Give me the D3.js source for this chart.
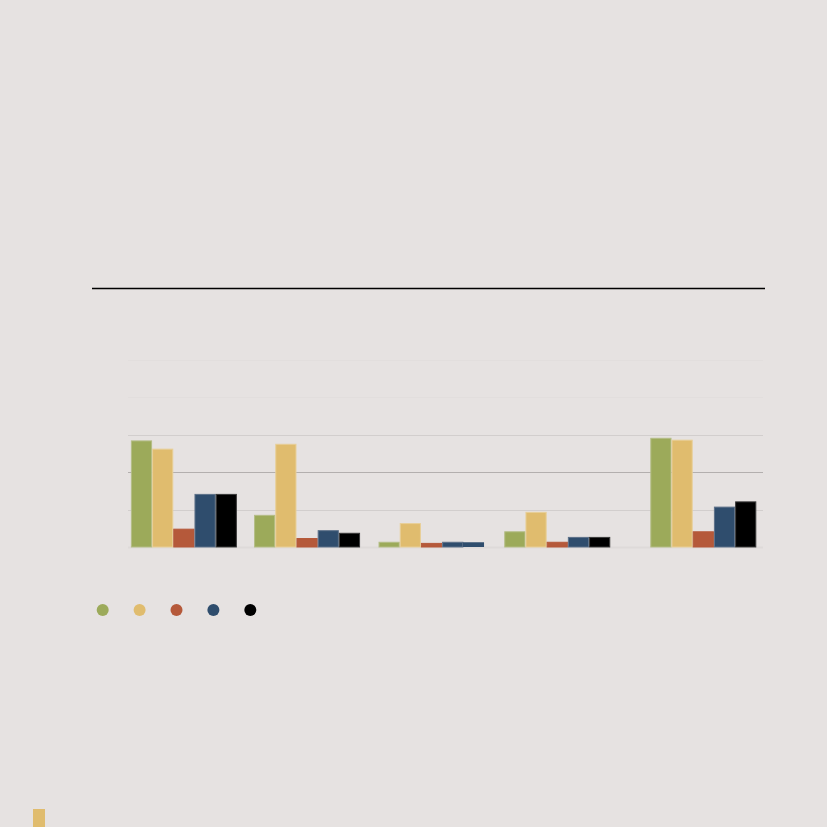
<!DOCTYPE html>
<html>
<head>
<meta charset="utf-8">
<script src="https://cdn.jsdelivr.net/npm/d3@7"></script>
<style>
  html, body { margin: 0; padding: 0; background: #e6e2e1; }
  svg { display: block; }
</style>
</head>
<body>
<div id="chart"></div>
<script>
// groups along the x axis (numeric position of each group centre)
let groupPos = [0.44, 1.41, 2.39, 3.38, 4.53];

// one array per series, one value per group
let seriesGreen  = [28.5, 8.6, 1.4, 4.2, 29.2];
let seriesYellow = [26.3, 27.6, 6.4, 9.4, 28.7];
let seriesRed    = [4.9, 2.4, 1.1, 1.4, 4.2];
let seriesBlue   = [14.2, 4.5, 1.4, 2.7, 10.8];
let seriesBlack  = [14.2, 3.8, 1.4, 2.7, 12.2];

let seriesColors = ['#9caa5a', '#e0bc6e', '#b5593a', '#2f4d6d', '#000000'];
let seriesEdge   = ['#b4bd86', '#e8cf98', '#b5593a', '#5d7189', '#3a3a3a'];
// third group: last series is shown in the blue colour
let colorOverride = { '2-4': 3 };

let yTicks = [0, 10, 20, 30, 40, 50];

let series = [seriesGreen, seriesYellow, seriesRed, seriesBlue, seriesBlack];

let svgSize = 827;
let plot = { left: 128, right: 763, top: 360, bottom: 547 };
let barW = 21.2;

let xScale = d3.scaleLinear()
		.domain([0, 5])
		.range([plot.left, plot.right]);

let yScale = d3.scaleLinear()
		.domain([0, 50])
		.range([plot.bottom, plot.top]);

let svg = d3.select('#chart')
		.append('svg')
		.attr('width', svgSize)
		.attr('height', svgSize);

svg.append('rect')
		.attr('width', svgSize)
		.attr('height', svgSize)
		.attr('fill', '#e6e2e1');

// top rule
svg.append('line')
		.attr('x1', 92).attr('x2', 765)
		.attr('y1', 288.5).attr('y2', 288.5)
		.attr('stroke', '#000')
		.attr('stroke-width', 1.3);

// gridlines
let gridColor = ['#dedad9', '#d2cecd', '#b3afae', '#d2cecd', '#e2dedd', '#e2dedd'];
svg.append('g')
		.selectAll('line')
		.data(yTicks)
		.enter()
		.append('line')
		.attr('x1', plot.left)
		.attr('x2', plot.right)
		.attr('y1', d => Math.round(yScale(d)) + 0.5)
		.attr('y2', d => Math.round(yScale(d)) + 0.5)
		.attr('stroke', (d, i) => gridColor[i])
		.attr('stroke-width', d => d === 0 ? 2 : 1);

// bars
let bars = [];
series.forEach((vals, s) => {
	vals.forEach((v, g) => {
		let c = colorOverride[g + '-' + s];
		bars.push({ s: s, g: g, v: v, ci: c === undefined ? s : c, plain: c !== undefined });
	});
});

svg.append('g')
		.selectAll('rect')
		.data(bars)
		.enter()
		.append('rect')
		.attr('x', d => xScale(groupPos[d.g]) + (d.s - 2.5) * barW + (d.plain ? -0.5 : 0.5))
		.attr('y', d => yScale(d.v) + 0.5)
		.attr('width', d => barW - (d.plain ? 0 : 1))
		.attr('height', d => Math.max(0, yScale(0) - yScale(d.v) - 0.5))
		.attr('fill', d => seriesColors[d.ci])
		.attr('stroke', d => d.plain ? 'none' : seriesEdge[d.ci])
		.attr('stroke-width', 1);

// legend dots
svg.append('g')
		.selectAll('circle')
		.data(seriesColors)
		.enter()
		.append('circle')
		.attr('cx', (d, i) => 102.7 + i * 36.9)
		.attr('cy', 610)
		.attr('r', 6)
		.attr('fill', d => d);

// little swatch at bottom left
svg.append('rect')
		.attr('x', 33)
		.attr('y', 809)
		.attr('width', 12)
		.attr('height', 20)
		.attr('fill', '#e0bc6e');
</script>
</body>
</html>
